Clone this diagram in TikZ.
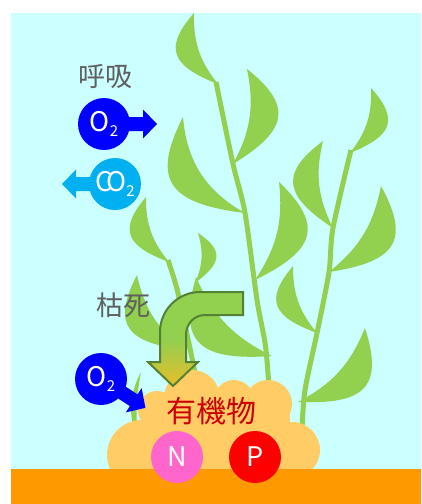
\documentclass[tikz,border=0pt]{standalone}
\usepackage{fontspec}
\setmainfont{Noto Sans CJK JP}

\definecolor{sky}{HTML}{CCFFFF}
\definecolor{soil}{HTML}{FF9900}
\definecolor{heap}{HTML}{FFCC66}
\definecolor{leafgreen}{HTML}{92D050}
\definecolor{arrowedge}{HTML}{548235}
\definecolor{arrowgold}{HTML}{E8BE28}
\definecolor{o2blue}{HTML}{0000FF}
\definecolor{co2blue}{HTML}{00B0F0}
\definecolor{npink}{HTML}{FF66CC}
\definecolor{pred}{HTML}{FF0000}
\definecolor{capgray}{HTML}{5F5F5F}
\definecolor{organicred}{HTML}{CC0000}

\newcommand{\molsub}[1]{\raisebox{-0.3ex}{\fontsize{15}{15}\selectfont #1}}
\newcommand{\leafleft}[3][20]{\fill[leaf] (#2) to[out=50, in=120, relative, looseness=1.65] (#3) to[bend right=#1] (#2);}
\newcommand{\leafright}[3][20]{\fill[leaf] (#2) to[out=-50, in=-120, relative, looseness=1.65] (#3) to[bend left=#1] (#2);}

\begin{document}
\begin{tikzpicture}
[x=1pt, y=-1pt,
 leaf/.style={fill=leafgreen},
 stem/.style={draw=leafgreen, line width=5pt},
 molecule/.style={circle, minimum size=52pt, inner sep=0pt, text=white,
   font=\fontsize{27}{27}\selectfont},
 arrowbody/.style={insert path={(0,-7) -- (39,-7) -- (39,-14.5) -- (53,0)
   -- (39,14.5) -- (39,7) -- (0,7) -- cycle}},
 caption/.style={text=capgray, font=\fontsize{27}{27}\selectfont}]
  \useasboundingbox (0,0) rectangle (421,504);
  \fill[sky] (11,13) rectangle (421,504);

  \draw[stem] plot[smooth] coordinates {(216,82) (233,164) (245,213) (257,300) (266,350) (271,420)};
  \draw[stem] plot[smooth] coordinates {(351,150) (333,228) (329,272) (317,333) (305,390) (302,430)};
  \draw[stem] plot[smooth] coordinates {(168,260) (178,293) (193,363) (200,400)};

  \leafleft{218,84}{194,13}
  \leafright{233,164}{247,69}
  \leafleft[28]{245,213}{183,117}
  \leafright{255,280}{279,182}
  \leafleft{272,356}{196,277}
  \leafright{350,153}{371,88}
  \leafleft{333,228}{323,141}
  \leafright{329,272}{381,186}
  \leafleft{317,333}{293,266}
  \leafright{298,402}{365,328}
  \leafleft{169,262}{146,197}
  \leafright{195,283}{198,233}
  \leafleft{185,350}{137,275}
  \fill[leaf] (138,440) to[bend left=25] (141,372) to[bend right=8] (138,440);

  \fill[heap] (142,455) circle[radius=35];
  \fill[heap] (157,410) circle[radius=19];
  \fill[heap] (192,398) circle[radius=28];
  \fill[heap] (234,400) circle[radius=20];
  \fill[heap] (268,404) circle[radius=24];
  \fill[heap] (292,450) circle[radius=28];
  \fill[heap] (150,400) rectangle (290,469);
  \fill[soil] (11,469) rectangle (421,504);

  \path[draw=arrowedge, line width=2pt, top color=leafgreen, bottom color=arrowgold,
    middle color=leafgreen]
    (243,292) -- (200,292) .. controls (178,292) and (160,310) .. (160,332)
    -- (160,362) -- (148,362) -- (173,386) -- (198,362) -- (186,362) -- (186,335)
    .. controls (186,324) and (194,315) .. (205,315) -- (243,315) -- cycle;

  \node[caption] (breath) at (105,77) {呼吸};
  \node[caption] (wither) at (123,305) {枯死};

  \fill[o2blue] [shift={(104,124)}, arrowbody];
  \node[molecule, fill=o2blue] (o2out) at (104,124) {O\molsub{2}};
  \fill[co2blue] [shift={(115,184)}, xscale=-1, arrowbody];
  \node[molecule, fill=co2blue] (co2) at (115,184) {C\kern-6pt O\molsub{2}};
  \fill[o2blue] [shift={(101,379)}, rotate=-33, arrowbody];
  \node[molecule, fill=o2blue] (o2in) at (101,379) {O\molsub{2}};

  \node[font=\fontsize{30}{30}\selectfont, text=organicred] (organic) at (211,411) {有機物};
  \node[molecule, fill=npink] (nitrogen) at (177,457) {N};
  \node[molecule, fill=pred] (phosphorus) at (255,457) {P};
\end{tikzpicture}
\end{document}
